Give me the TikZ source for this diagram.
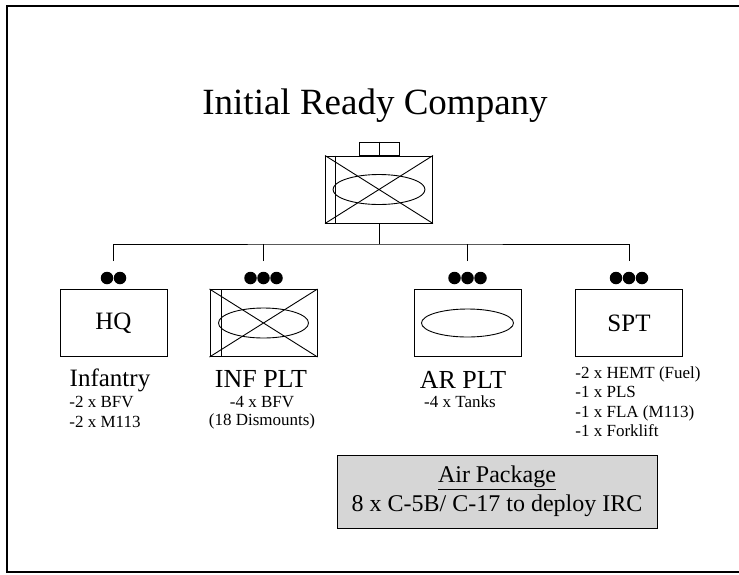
\documentclass[tikz,border=0pt]{standalone}
\usepackage{fontspec}
\setmainfont{Liberation Serif}
\usetikzlibrary{positioning}
\tikzset{unit/.style={draw,line width=1pt,minimum width=107pt,
                      minimum height=67pt,inner sep=0pt}}
\tikzset{dot/.style={circle,fill=black,inner sep=0pt,minimum size=12.5pt}}
\def\busy{244}

\begin{document}
\begin{tikzpicture}[x=1pt,y=-1pt,line width=0.9pt]
    \tikzstyle{heading}=[font=\fontsize{37}{40}\selectfont]
    \tikzstyle{unitname}=[font=\fontsize{25}{27}\selectfont]
    \tikzstyle{kit}=[font=\fontsize{17}{19}\selectfont,inner sep=0pt]
    \useasboundingbox (0,0) rectangle (739,574);

    % Frame round the slide
    \draw[line width=1.2pt] (739,6) -- (7,6) -- (7,572) -- (739,572);

    % Title
    \node[heading,anchor=base] (title) at (375,114) {Initial Ready Company};

    % Company symbol
    \node[unit] (CO) at (379,189.5) {};
    \node[draw,line width=1pt,minimum width=40pt,minimum height=13pt,
          inner sep=0pt,anchor=south] (CO-ech) at (CO.north) {};
    \draw (CO-ech.north) -- (CO-ech.south);
    \draw (CO.north west) -- (CO.south east) (CO.south west) -- (CO.north east);
    \draw ([xshift=10pt]CO.north west) -- ([xshift=10pt]CO.south west);
    \draw (CO.center) ellipse [x radius=46pt, y radius=15pt];

    % Draw the platoons
    \foreach \name / \x / \txt in {HQ/113.5/HQ,INF/263.5/,AR/467.5/,SPT/629/SPT}
        \node[unit,unitname] (\name) at (\x,323) {\txt};

    % Symbols inside the boxes
    \draw (INF.north west) -- (INF.south east) (INF.south west) -- (INF.north east);
    \draw ([xshift=12pt]INF.north west) -- ([xshift=12pt]INF.south west);
    \draw (INF.center) ellipse [x radius=45pt, y radius=15pt];
    \draw (AR.center) ellipse [x radius=46pt, y radius=14pt];

    % Size dots above the boxes
    \foreach \dx [count=\i] in {-6.5,6.5}
        \path (HQ.north) ++(\dx,-11) node[dot] (HQ-dot\i) {};
    \foreach \name in {INF,AR,SPT}
        \foreach \dx [count=\i] in {-13,0,13}
            \path (\name.north) ++(\dx,-11) node[dot] (\name-dot\i) {};

    % Connect the company with every platoon
    \coordinate (bus) at (379,\busy);
    \foreach \name in {HQ,INF,AR,SPT}
        \path (\name.north) ++(0,-28) coordinate (\name-top);
    \draw (CO.south) -- (bus);
    \draw (HQ-top) |- (bus) -| (SPT-top);
    \draw (INF-top) -- (INF-top |- bus);
    \draw (AR-top) -- (AR-top |- bus);

    % Names under the boxes
    \node[unitname,anchor=base] (HQ-lbl) at (110,386) {Infantry};
    \node[unitname,anchor=base,font=\fontsize{26}{28}\selectfont] (INF-lbl) at (261,387) {INF PLT};
    \node[unitname,anchor=base,font=\fontsize{26}{28}\selectfont] (AR-lbl) at (463,388) {AR PLT};

    % Equipment lists
    \foreach \txt [count=\i] in {-2 x BFV,-2 x M113}
        \node[kit,anchor=base west] (HQ-kit\i) at (69,387+20*\i) {\txt};
    \foreach \txt [count=\i] in {-4 x BFV,(18 Dismounts)}
        \node[kit,anchor=base] (INF-kit\i) at (262,389+18*\i) {\txt};
    \node[kit,anchor=base] (AR-kit1) at (460,407) {-4 x Tanks};
    \foreach \txt [count=\i] in {-2 x HEMT (Fuel),-1 x PLS,-1 x FLA (M113),-1 x Forklift}
        \node[kit,anchor=base west] (SPT-kit\i) at (575,358.5+19.5*\i) {\txt};

    % Air package
    \node[draw,fill=gray!32,line width=1pt,minimum width=320pt,minimum height=73pt,
          align=center,font=\fontsize{24}{29}\selectfont] (air) at (497,491.5)
          {\underline{Air Package}\\8 x C-5B/ C-17 to deploy IRC};
\end{tikzpicture}
\end{document}
